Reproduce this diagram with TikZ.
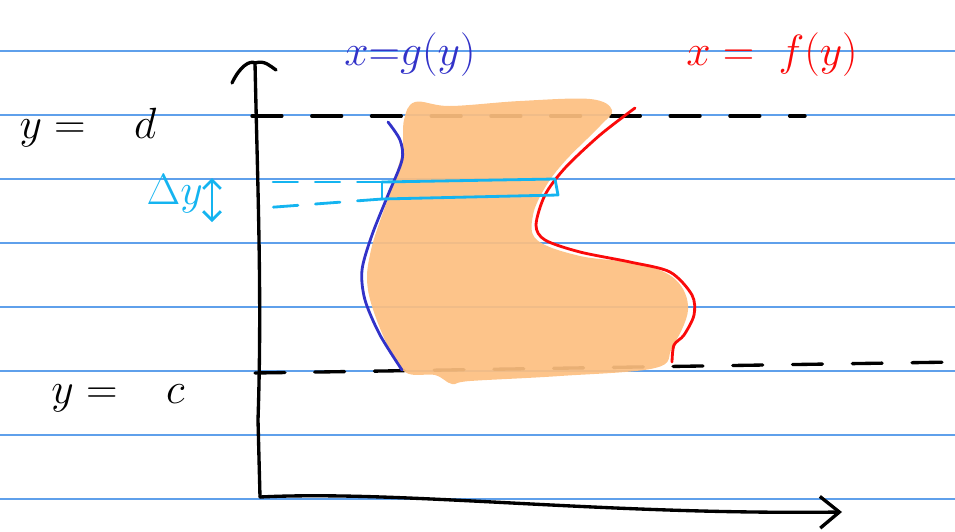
\documentclass[tikz,border=0pt]{standalone}
\usepackage{amsmath}
\usepackage{tikz}
\usetikzlibrary{arrows.meta, positioning}
\definecolor{ruleblue}{RGB}{95,160,235}
\definecolor{sketchorange}{RGB}{253,191,128}
\definecolor{gblue}{RGB}{50,50,200}
\definecolor{fred}{RGB}{250,10,10}
\definecolor{dycyan}{RGB}{20,180,240}

\begin{document}
\begin{tikzpicture}[
  x=0.02cm, y=-0.02cm,
  rule/.style={draw=ruleblue, line width=0.6pt},
  pen/.style={line width=1.9pt, line cap=round, line join=round},
  level/.style={pen, dash pattern=on 17pt off 17pt},
  curvepen/.style={line width=1.6pt, line cap=round, line join=round},
  hand/.style={font=\fontsize{32}{32}\selectfont, inner sep=1pt},
  barb/.style={-{Straight Barb[length=11pt, width=18pt, line width=1.9pt]}}
]
\useasboundingbox (0,0) rectangle (955,531);
% ruled paper
\foreach \ry in {51,115,179,243,307,371,435,499}
  \draw[rule] (0,\ry) -- (955,\ry);

% named points of the axes and levels
\coordinate (O) at (260,497);
\coordinate (ytop) at (255,63);
\coordinate (xend) at (842,512);
\coordinate (dleft) at (252,116);
\coordinate (dright) at (805,116);
\coordinate (cleft) at (255,373);
\coordinate (cright) at (955,362);

% levels y=d and y=c
\draw[level] (dleft) -- (dright);
\draw[level] (cleft) -- (cright);

% region between the curves
\fill[sketchorange, opacity=0.92] plot[smooth cycle, tension=0.6] coordinates {
  (404,120) (415,102) (450,106) (520,101) (590,99) (612,110) (600,126)
  (566,160) (546,186) (533,215) (537,240) (580,256) (640,264) (676,280)
  (688,310) (672,348) (655,368) (560,376) (470,381) (452,384) (435,375)
  (405,372) (385,340) (368,290) (371,250) (389,195) (402,152)};

% axes
\draw[pen] (232,83) .. controls (240,66) and (250,60) .. (ytop)
  .. controls (265,60) and (270,66) .. (276,70);
\draw[pen] (ytop) .. controls (258,200) and (262,300) .. (258,420) -- (O);
\draw[pen, barb] (O) .. controls (400,490) and (600,515) .. (xend);

% boundary curves
\draw[curvepen, gblue] plot[smooth] coordinates {
  (388,122) (400,140) (402,160) (388,195) (372,235) (362,270)
  (365,300) (380,335) (402,370)};
\draw[curvepen, fred] plot[smooth] coordinates {
  (635,108) (600,135) (565,168) (545,195) (536,225) (545,240)
  (580,252) (630,262) (670,272) (692,295) (694,315) (684,335)
  (674,345) (672,362)};

% thin strip
\coordinate (sTL) at (382,182);
\coordinate (sTR) at (555,179);
\coordinate (sBL) at (382,199);
\coordinate (sBR) at (558,195);
\draw[curvepen, dycyan] (sTL) -- (sTR) -- (sBR) -- (sBL);
\draw[curvepen, dycyan] (sTL) -- (sBL);
\draw[curvepen, dycyan, dash pattern=on 14pt off 10pt] (sTL) -- (262,182);
\draw[curvepen, dycyan, dash pattern=on 14pt off 10pt] (sBL) -- (262,208);
\coordinate (dyT) at (212,178);
\coordinate (dyB) at (212,222);
\draw[curvepen, dycyan, {Straight Barb[length=5pt, width=10pt]}-{Straight Barb[length=5pt, width=10pt]}] (dyT) -- (dyB);

% labels
\node[hand] (lbld) at (88,128) {$y =\;\;\; d$};
\node[hand] (lblc) at (118,398) {$y =\;\;\; c$};
\node[hand, gblue] (lblg) at (410,55) {$x{=}g(y)$};
\node[hand, fred] (lblf) at (772,55) {$x =\; f(y)$};
\node[hand, dycyan, left=4pt of dyB, yshift=16pt] (lbldy) {$\Delta y$};
\end{tikzpicture}
\end{document}
